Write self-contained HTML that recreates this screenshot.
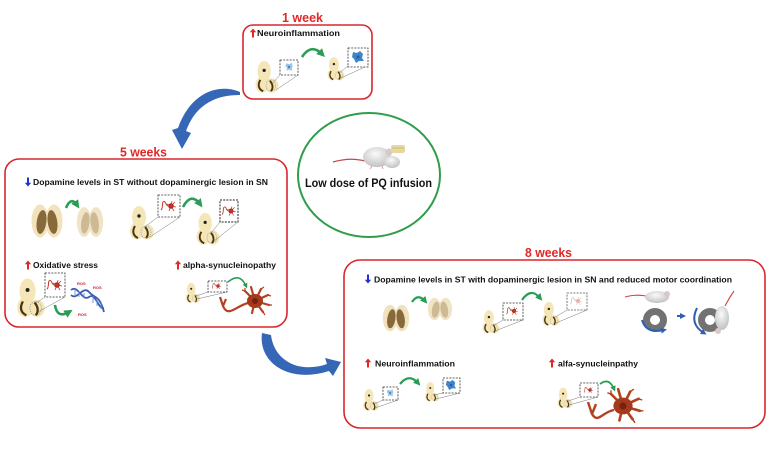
<!DOCTYPE html>
<html><head><meta charset="utf-8">
<style>
html,body{margin:0;padding:0;background:#fff;}
svg{display:block;}
text{font-family:"Liberation Sans",Arial,sans-serif;font-weight:bold;}
</style></head><body>
<svg width="768" height="449" viewBox="0 0 768 449" xmlns="http://www.w3.org/2000/svg">
<defs>
  <marker id="ga" viewBox="0 0 10 10" refX="5" refY="5" markerWidth="3.2" markerHeight="3.2" orient="auto">
    <path d="M0 0 L10 5 L0 10 Z" fill="#2a9d55"/>
  </marker>
  <marker id="ba" viewBox="0 0 10 10" refX="5" refY="5" markerWidth="3" markerHeight="3" orient="auto">
    <path d="M0 0 L10 5 L0 10 Z" fill="#2f5fb3"/>
  </marker>
  <g id="up">
    <path d="M0 -4.5 L3.2 -0.8 L1 -0.8 L1 4.5 L-1 4.5 L-1 -0.8 L-3.2 -0.8 Z" fill="#e02828"/>
  </g>
  <g id="dn">
    <path d="M0 4.5 L3.2 0.8 L1 0.8 L1 -4.5 L-1 -4.5 L-1 0.8 L-3.2 0.8 Z" fill="#2233cc"/>
  </g>
  <g id="strD">
    <ellipse cx="-7" cy="0" rx="8.5" ry="16.5" fill="#f1e2bd"/>
    <ellipse cx="7" cy="0" rx="8.5" ry="16.5" fill="#f1e2bd"/>
    <ellipse cx="-5.5" cy="1" rx="4.8" ry="12" fill="#87693a" transform="rotate(8 -5.5 1)"/>
    <ellipse cx="5.5" cy="1" rx="4.8" ry="12" fill="#87693a" transform="rotate(-8 5.5 1)"/>
  </g>
  <g id="strL">
    <ellipse cx="-7" cy="0" rx="8.5" ry="16.5" fill="#f1e4c6"/>
    <ellipse cx="7" cy="0" rx="8.5" ry="16.5" fill="#f1e4c6"/>
    <ellipse cx="-5.5" cy="1" rx="4.8" ry="12" fill="#cdb993" transform="rotate(8 -5.5 1)"/>
    <ellipse cx="5.5" cy="1" rx="4.8" ry="12" fill="#cdb993" transform="rotate(-8 5.5 1)"/>
  </g>
  <g id="mb">
    <ellipse cx="-3" cy="-6" rx="7" ry="11" fill="#f5e6b8"/>
    <ellipse cx="-5" cy="8" rx="7" ry="8.5" fill="#f5e6b8"/>
    <ellipse cx="5" cy="9" rx="7" ry="7.5" fill="#f5e6b8"/>
    <circle cx="-3" cy="-7" r="1.7" fill="#222"/>
    <path d="M-7 3 C-10 8 -9 13 -4 15" stroke="#4a3510" stroke-width="2" fill="none"/>
    <path d="M3 4 C6 7 7 12 4 15" stroke="#4a3510" stroke-width="2" fill="none"/>
    <ellipse cx="4" cy="9" rx="5" ry="6" fill="none" stroke="#888" stroke-width="0.6" stroke-dasharray="1 1"/>
  </g>
  <g id="rn">
    <circle r="2.8" fill="#b3261e"/>
    <path d="M0 0 l4 -4 M0 0 l5 1 M0 0 l3 5 M0 0 l-2 5 M0 0 l1 -5 M0 0 l-4 -2" stroke="#c0392b" stroke-width="0.8"/>
    <path d="M-3 0 C-6 -1 -5 -6 -8 -4 C-9 -3 -8 3 -10 4" stroke="#c0392b" stroke-width="1" fill="none"/>
  </g>
  <g id="bbL">
    <path d="M-3 -4 L1 -3 L3 -5 L4 -1 L3 2 L4 4 L0 3 L-3 4 L-2 1 L-4 -1 Z" fill="#9cc0e6"/>
    <circle r="1.2" fill="#3b7cc4"/>
  </g>
  <g id="bbD">
    <path d="M-5 -5 L-1 -4 L2 -6 L5 -3 L4 1 L6 4 L1 4 L-2 6 L-4 2 L-6 0 Z" fill="#3f84c9"/>
    <circle r="1.5" fill="#1f5f9f"/>
  </g>
  <g id="bigN">
    <path d="M0 0 L-10 -10 M0 0 L-4 -14 M0 0 L6 -12 M0 0 L13 -6 M0 0 L14 4 M0 0 L8 11 M0 0 L-3 12" stroke="#b5401f" stroke-width="2.2" stroke-linecap="round"/>
    <path d="M-10 -10 l-3 -1 M-10 -10 l0 -3 M6 -12 l3 -2 M13 -6 l3 1 M14 4 l3 0 M8 11 l2 3" stroke="#b5401f" stroke-width="1.2"/>
    <ellipse cx="0" cy="0" rx="8" ry="7" fill="#a33a1c"/>
    <circle cx="0" cy="0" r="3" fill="#7a2010"/>
  </g>
  <radialGradient id="mg" cx="0.45" cy="0.35" r="0.7">
    <stop offset="0" stop-color="#fafafa"/><stop offset="1" stop-color="#bdbdbd"/>
  </radialGradient>
</defs>

<!-- ===== TOP BOX: 1 week ===== -->
<text x="282" y="22" font-size="13" fill="#e02828" textLength="41" lengthAdjust="spacingAndGlyphs">1 week</text>
<rect x="243" y="25" width="129" height="74" rx="10" fill="none" stroke="#d9262e" stroke-width="1.6"/>
<use href="#up" transform="translate(253,33)"/>
<text x="257" y="36" font-size="8.5" fill="#111" textLength="83" lengthAdjust="spacingAndGlyphs">Neuroinflammation</text>
<use href="#mb" transform="translate(267,77) scale(0.95)"/>
<path d="M272 84 L280 75 M276 90 L298 75" stroke="#777" stroke-width="0.5"/>
<rect x="280" y="60" width="18" height="15" fill="#fff" stroke="#333" stroke-width="0.8" stroke-dasharray="2 1.2"/>
<use href="#bbL" transform="translate(289,67) scale(0.9)"/>
<path d="M302 57 Q311 43 322 54" stroke="#2a9d55" stroke-width="2.6" fill="none" marker-end="url(#ga)"/>
<use href="#mb" transform="translate(336,69) scale(0.7)"/>
<path d="M338 74 L348 66 M341 78 L367 66" stroke="#777" stroke-width="0.5"/>
<rect x="348" y="48" width="20" height="19" fill="#fff" stroke="#333" stroke-width="0.8" stroke-dasharray="2 1.2"/>
<use href="#bbD" transform="translate(358,57)"/>

<!-- ===== blue arrow 1 ===== -->
<path d="M240 92 C222 84 192 89 178 128 L172 130 L182 149 L191 133 L186 131 C196 104 216 95 240 95 Z" fill="#3666b6"/>

<!-- ===== CENTER ELLIPSE ===== -->
<ellipse cx="369" cy="175" rx="71" ry="62" fill="#fff" stroke="#2e9e4a" stroke-width="2"/>
<path d="M333 162 Q350 157 365 161" stroke="#c8474a" stroke-width="1.3" fill="none"/>
<ellipse cx="377" cy="157" rx="14" ry="10" fill="url(#mg)"/>
<ellipse cx="392" cy="162" rx="8" ry="6" fill="url(#mg)"/>
<circle cx="389" cy="152" r="3.5" fill="#d8c8c8"/>
<rect x="391" y="145" width="14" height="8" rx="2" fill="#e6d9a0"/>
<path d="M392 148 H404" stroke="#b8a870" stroke-width="0.6"/>
<path d="M372 166 l-2 3 M382 166 l1 3" stroke="#d99" stroke-width="1"/>
<text x="305" y="187" font-size="12" fill="#111" textLength="127" lengthAdjust="spacingAndGlyphs">Low dose of PQ infusion</text>

<!-- ===== LEFT BOX: 5 weeks ===== -->
<text x="120" y="156.5" font-size="13" fill="#e02828" textLength="47" lengthAdjust="spacingAndGlyphs">5 weeks</text>
<rect x="5" y="159" width="282" height="168" rx="14" fill="none" stroke="#d9262e" stroke-width="1.6"/>
<use href="#dn" transform="translate(28,182)"/>
<text x="33" y="185" font-size="8.5" fill="#111" textLength="235" lengthAdjust="spacingAndGlyphs">Dopamine levels in ST without dopaminergic lesion in SN</text>
<use href="#strD" transform="translate(47,221)"/>
<path d="M66 208 Q71 196 77 205" stroke="#2a9d55" stroke-width="2.6" fill="none" marker-end="url(#ga)"/>
<use href="#strL" transform="translate(90,222) scale(0.85 0.9)"/>

<use href="#mb" transform="translate(142,223)"/>
<path d="M146 226 L158 217 M150 237 L180 217" stroke="#777" stroke-width="0.5"/>
<rect x="158" y="195" width="22" height="22" fill="#fff" stroke="#333" stroke-width="0.8" stroke-dasharray="2 1.2"/>
<use href="#rn" transform="translate(171,206)"/>
<path d="M183 207 Q191 192 200 204" stroke="#2a9d55" stroke-width="2.6" fill="none" marker-end="url(#ga)"/>
<use href="#mb" transform="translate(208,229) scale(0.95)"/>
<path d="M211 233 L220 222 M214 241 L238 222" stroke="#777" stroke-width="0.5"/>
<rect x="220" y="200" width="18" height="22" fill="#fff" stroke="#222" stroke-width="1" stroke-dasharray="2 1.2"/>
<use href="#rn" transform="translate(231,211) scale(0.9)"/>

<use href="#up" transform="translate(28,265)"/>
<text x="33" y="268" font-size="8.5" fill="#111" textLength="65" lengthAdjust="spacingAndGlyphs">Oxidative stress</text>
<use href="#mb" transform="translate(31,298) scale(1.15)"/>
<path d="M36 303 L45 297 M38 312 L65 297" stroke="#777" stroke-width="0.5"/>
<rect x="45" y="273" width="20" height="24" fill="#fff" stroke="#333" stroke-width="0.8" stroke-dasharray="2 1.2"/>
<use href="#rn" transform="translate(57,285)"/>
<path d="M55 305 Q57 319 69 312" stroke="#2a9d55" stroke-width="2.6" fill="none" marker-end="url(#ga)"/>
<g stroke="#3a5fb0" stroke-width="1.8" fill="none">
  <path d="M71 290 C78 284 82 302 89 297 C96 292 98 310 104 308"/>
  <path d="M71 295 C77 301 83 285 89 292 C95 299 99 294 104 312"/>
</g>
<g stroke="#6a8fd0" stroke-width="0.9">
  <path d="M75 289 V296 M79 291 V297 M84 293 V297 M93 296 V303 M97 300 V306 M101 303 V309"/>
</g>
<text x="77" y="285" font-size="4" fill="#d02020">ROS</text>
<text x="93" y="289" font-size="4" fill="#d02020">ROS</text>
<text x="78" y="316" font-size="4" fill="#d02020">ROS</text>

<use href="#up" transform="translate(178,265)"/>
<text x="183" y="268" font-size="8.5" fill="#111" textLength="93" lengthAdjust="spacingAndGlyphs">alpha-synucleinopathy</text>
<use href="#mb" transform="translate(193,293) scale(0.6)"/>
<path d="M196 296 L208 292 M197 299 L227 292" stroke="#777" stroke-width="0.5"/>
<rect x="208" y="281" width="19" height="11" fill="#fff" stroke="#333" stroke-width="0.8" stroke-dasharray="2 1.2"/>
<use href="#rn" transform="translate(218,286) scale(0.6)"/>
<path d="M228 282 Q240 272 246 286" stroke="#2a9d55" stroke-width="1.6" fill="none" marker-end="url(#ga)"/>
<path d="M248 303 C236 306 228 318 223 306 L220 297 M223 306 L226 299" stroke="#b5401f" stroke-width="2.2" fill="none"/>
<use href="#bigN" transform="translate(255,301)"/>

<!-- ===== blue arrow 2 ===== -->
<path d="M262 333 C258 362 288 384 329 371 L333 376 L341 362 L325 358 L327 364 C298 374 274 360 271 335 Z" fill="#3666b6"/>

<!-- ===== RIGHT BOX: 8 weeks ===== -->
<text x="525" y="257" font-size="13" fill="#e02828" textLength="47" lengthAdjust="spacingAndGlyphs">8 weeks</text>
<rect x="344" y="260" width="421" height="168" rx="16" fill="none" stroke="#d9262e" stroke-width="1.6"/>
<use href="#dn" transform="translate(368,279)"/>
<text x="374" y="282.5" font-size="8.5" fill="#111" textLength="358" lengthAdjust="spacingAndGlyphs">Dopamine levels in ST with dopaminergic lesion in SN and reduced motor coordination</text>
<use href="#strD" transform="translate(396,318) scale(0.85 0.8)"/>
<path d="M412 302 Q418 293 425 301" stroke="#2a9d55" stroke-width="2.2" fill="none" marker-end="url(#ga)"/>
<use href="#strL" transform="translate(440,309) scale(0.78 0.68)"/>
<use href="#mb" transform="translate(491,322) scale(0.7)"/>
<path d="M493 326 L503 320 M495 331 L523 320" stroke="#777" stroke-width="0.5"/>
<rect x="503" y="303" width="20" height="17" fill="#fff" stroke="#333" stroke-width="0.8" stroke-dasharray="2 1.2"/>
<use href="#rn" transform="translate(514,311) scale(0.75)"/>
<path d="M522 300 Q531 287 540 298" stroke="#2a9d55" stroke-width="2.2" fill="none" marker-end="url(#ga)"/>
<use href="#mb" transform="translate(551,314) scale(0.72)"/>
<path d="M554 318 L567 310 M556 323 L587 310" stroke="#777" stroke-width="0.5"/>
<rect x="567" y="293" width="20" height="17" fill="#fff" stroke="#555" stroke-width="0.8" stroke-dasharray="2 1.2"/>
<g opacity="0.35"><use href="#rn" transform="translate(578,301) scale(0.75)"/></g>

<!-- rotarod -->
<path d="M625 297 Q636 294 646 296" stroke="#c8474a" stroke-width="1.1" fill="none"/>
<ellipse cx="657" cy="297" rx="12" ry="6" fill="url(#mg)"/>
<circle cx="667" cy="294" r="3" fill="#d8c8c8"/>
<circle cx="655" cy="320" r="8.5" fill="none" stroke="#727272" stroke-width="7"/>
<path d="M642 320 Q646 334 664 330" stroke="#2f5fb3" stroke-width="2" fill="none" marker-end="url(#ba)"/>
<path d="M677 316 H683" stroke="#2f5fb3" stroke-width="2" marker-end="url(#ba)"/>
<circle cx="710" cy="320" r="8.5" fill="none" stroke="#727272" stroke-width="7"/>
<path d="M697 308 Q689 324 704 333" stroke="#2f5fb3" stroke-width="2" fill="none" marker-end="url(#ba)"/>
<path d="M725 306 Q729 298 734 291" stroke="#c8474a" stroke-width="1.1" fill="none"/>
<ellipse cx="722" cy="318" rx="7" ry="12" fill="url(#mg)"/>
<circle cx="718" cy="331" r="3" fill="#d8c8c8"/>

<use href="#up" transform="translate(368,363)"/>
<text x="375" y="366.5" font-size="8.5" fill="#111" textLength="80" lengthAdjust="spacingAndGlyphs">Neuroinflammation</text>
<use href="#mb" transform="translate(371,400) scale(0.65)"/>
<path d="M374 404 L383 400 M375 408 L398 400" stroke="#777" stroke-width="0.5"/>
<rect x="383" y="387" width="15" height="13" fill="#fff" stroke="#333" stroke-width="0.8" stroke-dasharray="2 1.2"/>
<use href="#bbL" transform="translate(390,393) scale(0.8)"/>
<path d="M400 384 Q409 373 418 383" stroke="#2a9d55" stroke-width="2.2" fill="none" marker-end="url(#ga)"/>
<use href="#mb" transform="translate(432,392) scale(0.58)"/>
<path d="M434 395 L443 393 M436 399 L460 393" stroke="#777" stroke-width="0.5"/>
<rect x="443" y="378" width="17" height="15" fill="#fff" stroke="#333" stroke-width="0.8" stroke-dasharray="2 1.2"/>
<use href="#bbD" transform="translate(451,385) scale(0.85)"/>

<use href="#up" transform="translate(552,363)"/>
<text x="558" y="366.5" font-size="8.5" fill="#111" textLength="80" lengthAdjust="spacingAndGlyphs">alfa-synucleinpathy</text>
<use href="#mb" transform="translate(565,398) scale(0.62)"/>
<path d="M568 401 L580 397 M569 405 L598 397" stroke="#777" stroke-width="0.5"/>
<rect x="580" y="383" width="18" height="14" fill="#fff" stroke="#333" stroke-width="0.8" stroke-dasharray="2 1.2"/>
<use href="#rn" transform="translate(590,390) scale(0.6)"/>
<path d="M600 384 Q609 377 614 389" stroke="#2a9d55" stroke-width="1.8" fill="none" marker-end="url(#ga)"/>
<path d="M614 410 C602 412 598 424 592 414 L588 402 M592 414 L596 404" stroke="#b5401f" stroke-width="2.4" fill="none"/>
<use href="#bigN" transform="translate(623,406) scale(1.2)"/>
</svg>
</body></html>
